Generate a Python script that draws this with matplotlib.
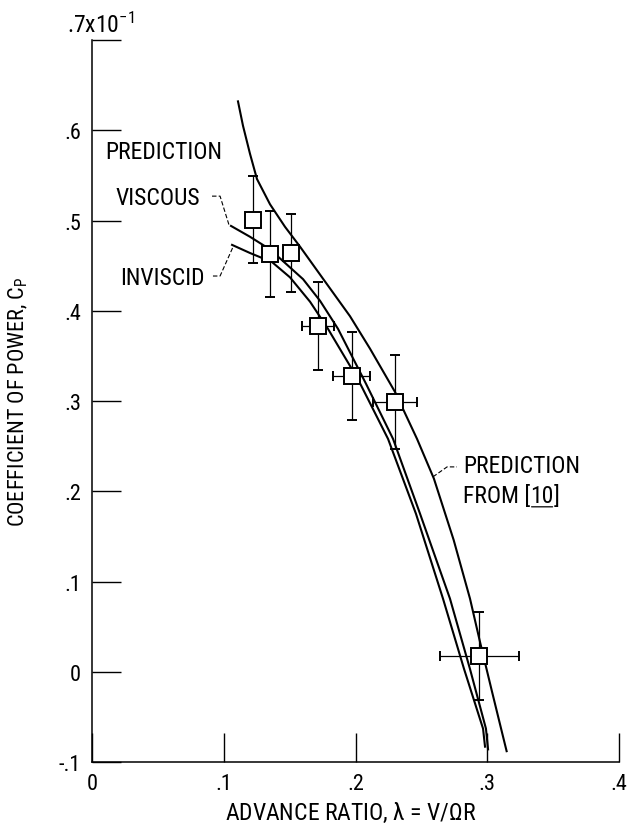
import matplotlib
matplotlib.use("Agg")
import matplotlib.pyplot as plt
from matplotlib import font_manager

fonts = font_manager.fontManager.ttflist
names = {f.name for f in fonts}
FONT = 'DejaVu Sans'
STRETCH = 'normal'
for cand in ['Liberation Sans Narrow', 'Roboto Condensed', 'Open Sans Condensed']:
    if cand in names:
        FONT = cand
        break
else:
    if any(f.name == 'DejaVu Sans' and f.stretch == 'condensed' for f in fonts):
        STRETCH = 'condensed'
    elif any(f.name == 'Roboto' and f.stretch == 'condensed' for f in fonts):
        FONT = 'Roboto'
        STRETCH = 'condensed'
plt.rcParams['font.family'] = [FONT, 'DejaVu Sans']
plt.rcParams['font.stretch'] = STRETCH
plt.rcParams['mathtext.fontset'] = 'custom'
plt.rcParams['mathtext.rm'] = FONT
plt.rcParams['mathtext.sf'] = FONT
plt.rcParams['mathtext.it'] = FONT

# measured data (C_P in units of 1e-1)
lam = [0.122, 0.135, 0.151, 0.1715, 0.197, 0.230, 0.294]
cp = [0.501, 0.463, 0.464, 0.383, 0.328, 0.299, 0.0175]
cp_err = [0.048, 0.048, 0.043, 0.049, 0.049, 0.052, 0.049]
lam_err = [0.0, 0.0, 0.0, 0.012, 0.014, 0.017, 0.030]

# prediction from [10]
pred_x = [0.1108, 0.1146, 0.1199, 0.1252, 0.1351, 0.1465, 0.1579, 0.1746, 0.1958,
          0.211, 0.230, 0.2467, 0.2595, 0.2745, 0.2869, 0.2945, 0.3036, 0.312, 0.3147]
pred_y = [0.632, 0.605, 0.574, 0.546, 0.518, 0.493, 0.471, 0.437, 0.394,
          0.358, 0.310, 0.258, 0.214, 0.146, 0.081, 0.033, -0.022, -0.072, -0.088]

# viscous prediction
visc_x = [0.1055, 0.1199, 0.1351, 0.1602, 0.1731, 0.1867, 0.208, 0.2285, 0.249,
          0.2717, 0.2869, 0.299, 0.3006]
visc_y = [0.494, 0.482, 0.468, 0.435, 0.411, 0.380, 0.319, 0.258, 0.175,
          0.081, 0.003, -0.063, -0.086]

# inviscid prediction
invisc_x = [0.1063, 0.1199, 0.1366, 0.1503, 0.1655, 0.1791, 0.2019, 0.2247, 0.2459,
            0.2664, 0.2824, 0.2968, 0.2983]
invisc_y = [0.473, 0.464, 0.454, 0.437, 0.410, 0.380, 0.324, 0.258, 0.175,
            0.081, 0.003, -0.063, -0.083]

xticks = [0, 0.1, 0.2, 0.3, 0.4]
xtick_labels = ['0', '.1', '.2', '.3', '.4']
yticks = [-0.1, 0, 0.1, 0.2, 0.3, 0.4, 0.5, 0.6, 0.7]
ytick_labels = ['-.1', '0', '.1', '.2', '.3', '.4', '.5', '.6', '']

fig = plt.figure(figsize=(6.28, 8.37), dpi=100)
ax = fig.add_axes([0.1465, 0.0884, 0.8392, 0.8626])

ax.plot(pred_x, pred_y, color='black', lw=1.5)
ax.plot(visc_x, visc_y, color='black', lw=1.5)
ax.plot(invisc_x, invisc_y, color='black', lw=1.5)

ax.errorbar(lam, cp, yerr=cp_err, xerr=lam_err, fmt='s', ms=11.5, mfc='white',
            mec='black', mew=1.4, ecolor='black', elinewidth=0.9, capsize=3.5,
            capthick=0.9, zorder=3)

ax.set_xlim(0, 0.4)
ax.set_ylim(-0.1, 0.7)
ax.spines['top'].set_visible(False)
ax.spines['right'].set_visible(False)
for s in ('left', 'bottom'):
    ax.spines[s].set_linewidth(1.1)
ax.set_xticks(xticks)
ax.set_xticklabels(xtick_labels)
ax.set_yticks(yticks)
ax.set_yticklabels(ytick_labels)
ax.tick_params(axis='both', direction='in', length=21, width=1.0, labelsize=16)
ax.tick_params(axis='x', pad=8)
ax.tick_params(axis='y', pad=8)

ax.text(0.0065, 0.703, r'.7x10$^{-1}$', ha='center', va='bottom', fontsize=17, clip_on=False)

ax.set_xlabel(r'ADVANCE RATIO, $\lambda$ = V/$\Omega$R', fontsize=17)
ax.set_ylabel(r'COEFFICIENT OF POWER, C$_{\mathrm{P}}$', fontsize=16)
ax.xaxis.set_label_coords(0.49, -0.052)
ax.yaxis.set_label_coords(-0.117, 0.5)

# labels and leader lines
ax.text(0.0099, 0.577, 'PREDICTION', ha='left', va='center', fontsize=17)
ax.text(0.0182, 0.526, 'VISCOUS', ha='left', va='center', fontsize=17)
ax.text(0.0213, 0.4374, 'INVISCID', ha='left', va='center', fontsize=17)
ax.plot([0.0911, 0.0972, 0.104], [0.527, 0.527, 0.495], color='black', lw=0.8, ls=(0, (4, 2)))
ax.plot([0.0918, 0.0972, 0.107], [0.4385, 0.4385, 0.4706], color='black', lw=0.8, ls=(0, (4, 2)))

ax.text(0.2816, 0.228, 'PREDICTION', ha='left', va='center', fontsize=17)
t1 = ax.text(0.2816, 0.195, 'FROM [', ha='left', va='center', fontsize=17)
t2 = ax.annotate('10', xy=(1, 0), xycoords=t1, ha='left', va='bottom', fontsize=17)
ax.annotate(']', xy=(1, 0), xycoords=t2, ha='left', va='bottom', fontsize=17)
ax.annotate('', xy=(0.05, 0.02), xycoords=t2, xytext=(0.95, 0.02), textcoords=t2,
            arrowprops=dict(arrowstyle='-', lw=0.9, shrinkA=0, shrinkB=0))
ax.plot([0.2588, 0.2695, 0.277], [0.216, 0.227, 0.227], color='black', lw=0.8, ls=(0, (4, 2)))

fig.savefig('out.png', dpi=100)
